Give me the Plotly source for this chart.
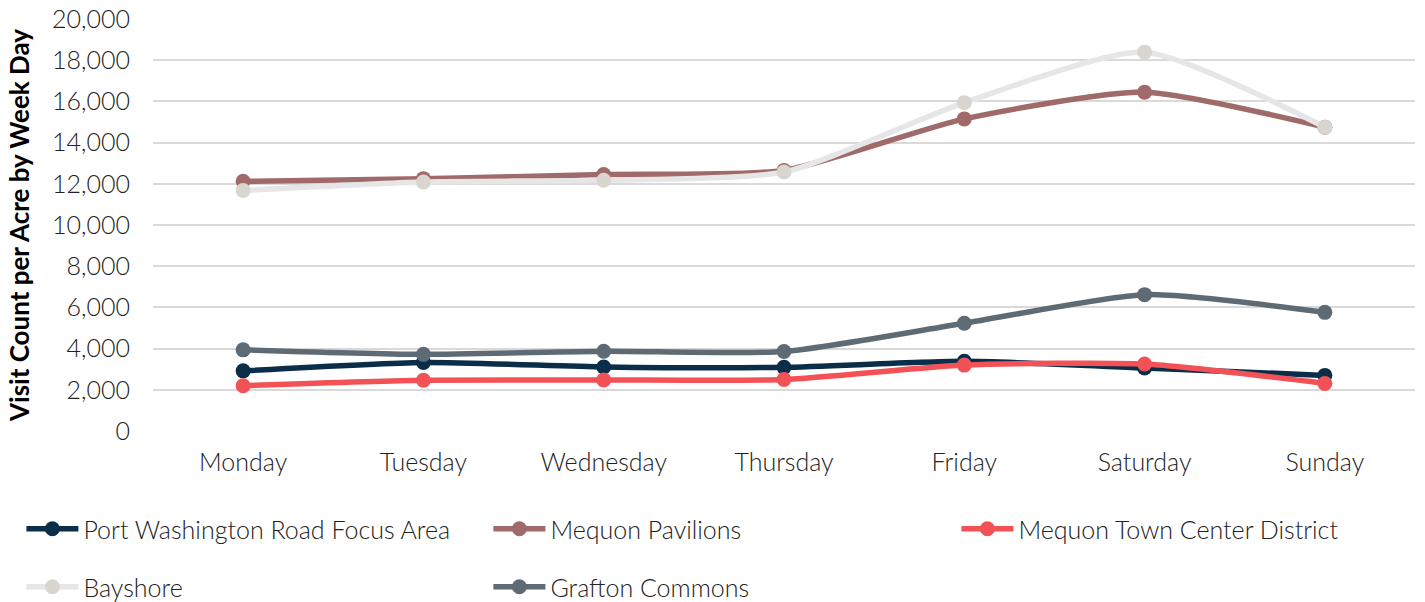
import plotly.graph_objects as go

days = ["Monday", "Tuesday", "Wednesday", "Thursday", "Friday", "Saturday", "Sunday"]

port_washington = [2920, 3330, 3110, 3090, 3380, 3060, 2700]
mequon_pavilions = [12120, 12250, 12450, 12650, 15150, 16450, 14750]
mequon_town_center = [2200, 2460, 2480, 2500, 3200, 3250, 2310]
bayshore = [11680, 12090, 12170, 12570, 15940, 18390, 14750]
grafton_commons = [3940, 3720, 3870, 3860, 5230, 6620, 5760]

y_ticks = [0, 2000, 4000, 6000, 8000, 10000, 12000, 14000, 16000, 18000, 20000]

series = [
    ("Port Washington Road Focus Area", port_washington, "#0A2D4A", "#0A2D4A"),
    ("Mequon Pavilions", mequon_pavilions, "#A06A6A", "#A06A6A"),
    ("Mequon Town Center District", mequon_town_center, "#F25156", "#F25156"),
    ("Bayshore", bayshore, "#E6E6E6", "#D9D6CF"),
    ("Grafton Commons", grafton_commons, "#5F6B74", "#5F6B74"),
]

# legend slot for each series: (column x in px, row centre y in px)
legend_slots = [(21.4, 529), (488.4, 529), (956.4, 529), (21.4, 587), (488.4, 587)]

W, H = 1425, 602
fig = go.Figure()
legend_layouts = {}
font_family = "Lato"
for i, (name, vals, lc, mc) in enumerate(series):
    lname = "legend" if i == 0 else f"legend{i + 1}"
    fig.add_trace(go.Scatter(
        x=days, y=vals, name=name, mode="lines+markers",
        line=dict(color=lc, width=5.5, shape="spline", smoothing=0.6),
        marker=dict(color=mc, size=15),
        legend=lname,
    ))
    px, py = legend_slots[i]
    legend_layouts[lname] = dict(
        orientation="h", xref="container", yref="container",
        x=px / W, y=1 - py / H, xanchor="left", yanchor="middle",
        itemwidth=52,
        font=dict(family=font_family, size=25, color="#222222", weight=300),
        bgcolor="rgba(0,0,0,0)",
    )

fig.update_layout(
    width=W, height=H,
    margin=dict(l=153, r=10, t=19, b=171, autoexpand=False),
    paper_bgcolor="white", plot_bgcolor="white",
    font=dict(family=font_family, size=22, color="#222222"),
    showlegend=True,
    **legend_layouts,
)
fig.update_xaxes(
    range=[-0.5, 6.5], showgrid=False, showline=False, zeroline=False,
    tickfont=dict(size=25, color="#222222", weight=300), ticks="", ticklabelstandoff=14,
    automargin=False,
)
fig.update_yaxes(
    range=[0, 20000], tickvals=y_ticks, tickformat=",d",
    showgrid=True, gridcolor="#D9D9D9", gridwidth=2, zeroline=False, showline=False,
    tickfont=dict(size=25, color="#222222", weight=300), ticks="", ticklabelstandoff=22,
    automargin=False,
    title=dict(text="<b>Visit Count per Acre by Week Day</b>",
               font=dict(size=26, color="#000000"), standoff=14),
)

fig.write_html("out.html")
